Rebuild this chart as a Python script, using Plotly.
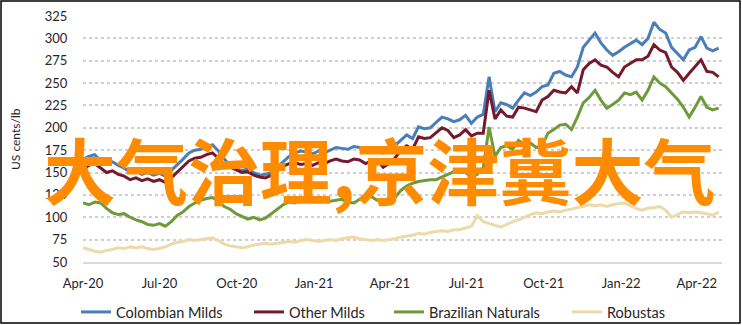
import pandas as pd
import plotly.graph_objects as go

dates = pd.date_range("2020-04-01", periods=109, freq="7D")

colombian_milds = [
    165, 168, 170, 163, 160, 162, 158, 155, 150, 152,
    148, 150, 147, 149, 146, 152, 158, 165, 172, 175,
    176, 178, 181, 174, 165, 158, 155, 152, 154, 150,
    147, 148, 150, 156, 162, 168, 172, 174, 173, 171,
    174, 172, 175, 178, 177, 176, 179, 178, 174, 176,
    178, 172, 175, 180, 186, 192, 188, 201, 199, 200,
    206, 212, 210, 207, 209, 214, 205, 212, 215, 257,
    218, 228, 226, 222, 231, 239, 236, 240, 246, 248,
    261, 263, 259, 257, 268, 290, 298, 306, 295, 287,
    281, 285, 290, 294, 298, 293, 300, 318, 310, 306,
    290, 283, 276, 287, 290, 302, 289, 286, 289,
]
other_milds = [
    153, 158, 160, 155, 150, 152, 148, 146, 142, 144,
    141, 143, 140, 142, 139, 144, 150, 157, 163, 166,
    167, 170, 172, 166, 158, 156, 153, 150, 151, 147,
    145, 144, 147, 152, 157, 160, 161, 159, 160, 158,
    161, 160, 163, 165, 163, 162, 165, 164, 160, 163,
    164, 156, 160, 166, 175, 180, 176, 190, 188, 189,
    195, 200, 197, 189, 192, 198, 191, 194, 194, 242,
    210, 220, 213, 212, 223, 222, 220, 218, 231, 235,
    242, 240, 239, 246, 239, 265, 272, 276, 270, 268,
    262, 257, 268, 272, 276, 276, 280, 293, 287, 284,
    268, 262, 253, 261, 268, 276, 263, 262, 257,
]
brazilian_naturals = [
    116, 114, 117, 116, 110, 105, 103, 104, 100, 97,
    95, 92, 91, 93, 90, 95, 102, 106, 112, 116,
    119, 121, 122, 118, 112, 109, 104, 101, 98, 100,
    97, 99, 104, 110, 114, 117, 116, 119, 120, 118,
    119, 121, 118, 119, 120, 117, 116, 120, 125, 123,
    119, 118, 116, 122, 130, 135, 138, 140, 141, 142,
    142, 145, 148, 151, 153, 150, 145, 148, 155, 201,
    168, 178, 180, 176, 186, 181, 183, 178, 180, 194,
    198, 203, 204, 198, 212, 228, 234, 242, 231, 222,
    226, 231, 239, 237, 240, 231, 242, 257, 250, 246,
    239, 232, 223, 212, 223, 235, 223, 220, 222,
]
robustas = [
    66, 64, 62, 61, 63, 64, 66, 65, 67, 66,
    67, 65, 64, 65, 67, 70, 72, 73, 75, 74,
    75, 76, 77, 74, 70, 68, 67, 66, 67, 69,
    70, 71, 70, 71, 72, 73, 72, 74, 75, 74,
    73, 74, 75, 74, 76, 77, 78, 76, 75, 74,
    75, 74, 75, 76, 78, 79, 80, 82, 81, 83,
    84, 85, 84, 86, 86, 88, 90, 102, 95, 93,
    91, 89, 92, 95, 97, 100, 103, 105, 104, 106,
    107, 106, 108, 109, 111, 112, 114, 113, 114, 112,
    114, 115, 116, 113, 110, 108, 110, 111, 112, 108,
    100, 103, 106, 105, 106, 105, 104, 102, 106,
]

series_names = ["Colombian Milds", "Other Milds", "Brazilian Naturals", "Robustas"]
series_values = [colombian_milds, other_milds, brazilian_naturals, robustas]
series_colors = ["#4a7ebb", "#731a2c", "#6f9a3a", "#eed9a8"]

tick_dates = ["2020-04-01", "2020-07-01", "2020-10-01", "2021-01-01", "2021-04-01",
              "2021-07-01", "2021-10-01", "2022-01-01", "2022-04-01"]
tick_labels = ["Apr-20", "Jul-20", "Oct-20", "Jan-21", "Apr-21",
               "Jul-21", "Oct-21", "Jan-22", "Apr-22"]
y_ticks = [50, 75, 100, 125, 150, 175, 200, 225, 250, 275, 300, 325]
overlay_text = "大气治理,京津冀大气"
y_title = "US cents/lb"

W, H = 742, 325
L, R, T, B = 83, 20, 16, 63
pw, ph = W - L - R, H - T - B

legend_ids = ["legend", "legend2", "legend3", "legend4"]
legend_left_px = [76, 249, 389, 567]

fig = go.Figure()
for name, vals, col, lid in zip(series_names, series_values, series_colors, legend_ids):
    fig.add_trace(go.Scatter(x=dates, y=vals, name=name, mode="lines",
                             line=dict(color=col, width=3), legend=lid))

font_main = "Lato, 'Open Sans', sans-serif"
fig.update_layout(
    width=W, height=H,
    margin=dict(l=L, r=R, t=T, b=B, autoexpand=False),
    paper_bgcolor="white", plot_bgcolor="white",
    font=dict(family=font_main, size=13, color="#262626"),
    showlegend=True,
    xaxis=dict(type="date", range=["2020-04-01", "2022-05-01"],
               tickvals=tick_dates, ticktext=tick_labels,
               showgrid=False, zeroline=False,
               showline=True, linecolor="#d9d9d9", linewidth=2,
               ticks="outside", ticklen=8, tickcolor="rgba(0,0,0,0)",
               tickfont=dict(size=13)),
    yaxis=dict(range=[50, 325], tickvals=y_ticks,
               showgrid=True, gridcolor="#cfcfcf", griddash="dot", gridwidth=1.5,
               zeroline=False, showline=False,
               ticks="outside", ticklen=12, tickcolor="rgba(0,0,0,0)",
               tickfont=dict(size=13)),
)
for lid, lx in zip(legend_ids, legend_left_px):
    fig.update_layout({lid: dict(orientation="h", x=(lx - L) / pw, xanchor="left",
                                 y=(H - B - 312) / ph, yanchor="middle",
                                 font=dict(size=14.5, color="#262626"),
                                 bgcolor="rgba(0,0,0,0)", itemwidth=30)})

fig.add_annotation(text=y_title, xref="paper", yref="paper",
                   x=(15 - L) / pw, y=0.5, textangle=-90, showarrow=False,
                   xanchor="center", yanchor="middle",
                   font=dict(size=12, color="#262626"))

fig.add_annotation(text=overlay_text, xref="paper", yref="paper",
                   x=(379 - L) / pw, y=(H - B - 167) / ph, showarrow=False,
                   xanchor="center", yanchor="middle",
                   font=dict(family="'Noto Sans CJK SC'", size=72, color="#ff8c00",
                             weight="bold"))

fig.add_shape(type="rect", xref="paper", yref="paper",
              x0=(1 - L) / pw, x1=(740 - L) / pw,
              y0=(H - B - 323) / ph, y1=(H - B - 1) / ph,
              line=dict(color="black", width=1.5), fillcolor="rgba(0,0,0,0)",
              layer="above")

fig.write_html("out.html")
